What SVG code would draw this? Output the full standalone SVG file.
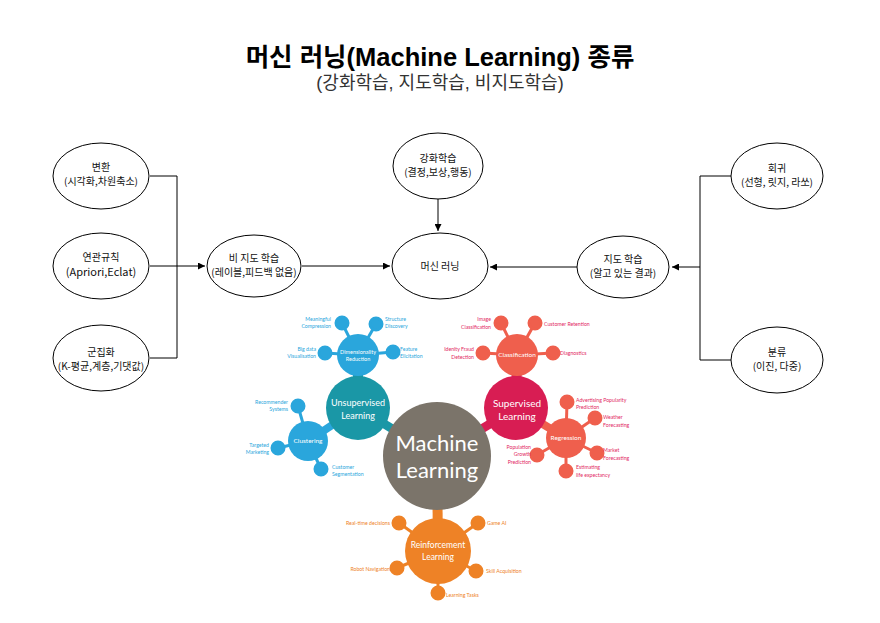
<svg xmlns="http://www.w3.org/2000/svg" width="880" height="623" viewBox="0 0 880 623">
<defs>
<marker id="arr" viewBox="0 0 10 10" refX="10" refY="5" markerWidth="7" markerHeight="7" markerUnits="userSpaceOnUse" orient="auto">
<path d="M0,0 L10,5 L0,10 z" fill="#000"/>
</marker>
<style>
.ell{fill:#fff;stroke:#000;stroke-width:1}
.kt{font-family:"Noto Sans CJK KR","Noto Sans",sans-serif;font-size:10px;fill:#111;text-anchor:middle}
.con{fill:none;stroke:#000;stroke-width:1}
.lab{font-family:Lato,"Open Sans",sans-serif;font-size:5.2px}
.blue{fill:#2aa6dc}
.red{fill:#e2275f}
.org{fill:#ee8226}
.wt{font-family:Lato,"Open Sans",sans-serif;fill:#fff;text-anchor:middle}
.r{text-anchor:end}
</style>
</defs>
<rect width="880" height="623" fill="#fff"/>
<g id="title">
<text x="440" y="66" text-anchor="middle" font-family="'Liberation Sans','Noto Sans CJK KR',sans-serif" font-weight="bold" font-size="25.5" fill="#000">머신 러닝(Machine Learning) 종류</text>
<text x="440" y="89" text-anchor="middle" font-family="'Liberation Sans','Noto Sans CJK KR',sans-serif" font-size="18" fill="#333">(강화학습, 지도학습, 비지도학습)</text>
</g>
<g id="connectors">
<path class="con" d="M150 176 H177 V358 H150"/>
<path class="con" d="M150 266 H205" marker-end="url(#arr)"/>
<path class="con" d="M302 266 H390" marker-end="url(#arr)"/>
<path class="con" d="M438 199 V231" marker-end="url(#arr)"/>
<path class="con" d="M577 267 H490" marker-end="url(#arr)"/>
<path class="con" d="M731 176 H700 V360 H731"/>
<path class="con" d="M700 267 H672" marker-end="url(#arr)"/>
</g>
<g id="n_transform"><ellipse class="ell" cx="101" cy="176" rx="48" ry="33"/><text class="kt" x="101" y="171">변환</text><text class="kt" x="101" y="185">(시각화,차원축소)</text></g>
<g id="n_assoc"><ellipse class="ell" cx="101" cy="266" rx="48" ry="33"/><text class="kt" x="101" y="261">연관규칙</text><text class="kt" x="101" y="276" style="font-size:11px">(Apriori,Eclat)</text></g>
<g id="n_cluster"><ellipse class="ell" cx="101" cy="358" rx="48" ry="33"/><text class="kt" x="101" y="356">군집화</text><text class="kt" x="101" y="370">(K-평균,계층,기댓값)</text></g>
<g id="n_unsup"><ellipse class="ell" cx="254" cy="266" rx="47" ry="31"/><text class="kt" x="254" y="262">비 지도 학습</text><text class="kt" x="254" y="276">(레이블,피드백 없음)</text></g>
<g id="n_rl"><ellipse class="ell" cx="438" cy="166" rx="45" ry="33"/><text class="kt" x="438" y="162">강화학습</text><text class="kt" x="438" y="176">(결정,보상,행동)</text></g>
<g id="n_ml"><ellipse class="ell" cx="440" cy="266" rx="48" ry="33"/><text class="kt" x="440" y="270">머신 러닝</text></g>
<g id="n_sup"><ellipse class="ell" cx="623" cy="267" rx="46" ry="31"/><text class="kt" x="623" y="263">지도 학습</text><text class="kt" x="623" y="277">(알고 있는 결과)</text></g>
<g id="n_reg"><ellipse class="ell" cx="777" cy="176" rx="46" ry="33"/><text class="kt" x="777" y="172">회귀</text><text class="kt" x="777" y="186">(선형, 릿지, 라쏘)</text></g>
<g id="n_cls"><ellipse class="ell" cx="777" cy="360" rx="46" ry="33"/><text class="kt" x="777" y="356">분류</text><text class="kt" x="777" y="370">(이진, 다중)</text></g>

<g id="infographic">
<line x1="358" y1="408" x2="437" y2="456" stroke="#1a97a6" stroke-width="9"/>
<line x1="516" y1="408" x2="437" y2="456" stroke="#d81d53" stroke-width="9"/>
<line x1="437" y1="456" x2="438" y2="551" stroke="#ee8226" stroke-width="10"/>
<line x1="358" y1="355" x2="358" y2="408" stroke="#1a97a6" stroke-width="10"/>
<line x1="308" y1="441" x2="358" y2="408" stroke="#2aa6dc" stroke-width="8"/>
<line x1="517" y1="355" x2="516" y2="408" stroke="#d81d53" stroke-width="10"/>
<line x1="566" y1="438" x2="516" y2="408" stroke="#ef5f4d" stroke-width="8"/>
<g stroke="#2aa6dc" stroke-width="3" fill="#2aa6dc">
<line x1="358" y1="355" x2="342" y2="323"/><circle cx="342" cy="323" r="6"/>
<line x1="358" y1="355" x2="376" y2="324"/><circle cx="376" cy="324" r="6"/>
<line x1="358" y1="355" x2="325" y2="353"/><circle cx="325" cy="353" r="6"/>
<line x1="358" y1="355" x2="393" y2="352"/><circle cx="393" cy="352" r="6"/>
<line x1="308" y1="441" x2="298" y2="406"/><circle cx="298" cy="406" r="6"/>
<line x1="308" y1="441" x2="278" y2="448"/><circle cx="278" cy="448" r="6"/>
<line x1="308" y1="441" x2="321" y2="469"/><circle cx="321" cy="469" r="6"/>
</g>
<g stroke="#ef5f4d" stroke-width="3" fill="#ef5f4d">
<line x1="517" y1="355" x2="501" y2="323"/><circle cx="501" cy="323" r="6"/>
<line x1="517" y1="355" x2="535" y2="323"/><circle cx="535" cy="323" r="6"/>
<line x1="517" y1="355" x2="483" y2="353"/><circle cx="483" cy="353" r="6"/>
<line x1="517" y1="355" x2="553" y2="353"/><circle cx="553" cy="353" r="6"/>
<line x1="566" y1="438" x2="567" y2="402"/><circle cx="567" cy="402" r="6"/>
<line x1="566" y1="438" x2="595" y2="418"/><circle cx="595" cy="418" r="6"/>
<line x1="566" y1="438" x2="597" y2="453"/><circle cx="597" cy="453" r="6"/>
<line x1="566" y1="438" x2="566" y2="471"/><circle cx="566" cy="471" r="6"/>
<line x1="566" y1="438" x2="537" y2="455"/><circle cx="537" cy="455" r="6"/>
</g>
<g stroke="#ee8226" stroke-width="3" fill="#ee8226">
<line x1="438" y1="551" x2="399" y2="523"/><circle cx="399" cy="523" r="6"/>
<line x1="438" y1="551" x2="478" y2="523"/><circle cx="478" cy="523" r="6"/>
<line x1="438" y1="551" x2="397" y2="568"/><circle cx="397" cy="568" r="6"/>
<line x1="438" y1="551" x2="476" y2="571"/><circle cx="476" cy="571" r="6"/>
<line x1="438" y1="551" x2="438" y2="593"/><circle cx="438" cy="593" r="6"/>
</g>
<circle cx="437" cy="456" r="54" fill="#7b746a"/>
<circle cx="358" cy="408" r="32" fill="#1a97a6"/>
<circle cx="516" cy="408" r="32" fill="#d81d53"/>
<circle cx="438" cy="551" r="33" fill="#ee8226"/>
<circle cx="358" cy="355" r="21" fill="#2aa6dc"/>
<circle cx="308" cy="441" r="20" fill="#2aa6dc"/>
<circle cx="517" cy="355" r="21" fill="#ef5f4d"/>
<circle cx="566" cy="438" r="20" fill="#ef5f4d"/>
<text class="wt" x="437" y="451" font-size="22">Machine</text>
<text class="wt" x="437" y="478" font-size="22">Learning</text>
<text class="wt" x="358" y="406" font-size="9">Unsupervised</text>
<text class="wt" x="358" y="419" font-size="9">Learning</text>
<text class="wt" x="517" y="407" font-size="10">Supervised</text>
<text class="wt" x="517" y="420" font-size="10">Learning</text>
<text class="wt" x="438" y="548" font-size="8.5">Reinforcement</text>
<text class="wt" x="438" y="560" font-size="8.5">Learning</text>
<text class="wt" x="358" y="354" font-size="5.5">Dimensionality</text>
<text class="wt" x="358" y="361" font-size="5.5">Reduction</text>
<text class="wt" x="308" y="443" font-size="6.5">Clustering</text>
<text class="wt" x="517" y="357" font-size="6.5">Classification</text>
<text class="wt" x="566" y="440" font-size="6.5">Regression</text>
<g class="lab blue">
<text class="r" x="331" y="321">Meaningful</text><text class="r" x="331" y="328">Compression</text>
<text x="385" y="321">Structure</text><text x="385" y="328">Discovery</text>
<text class="r" x="316" y="351">Big data</text><text class="r" x="316" y="358">Visualisation</text>
<text x="400" y="351">Feature</text><text x="400" y="358">Elicitation</text>
<text class="r" x="288" y="404">Recommender</text><text class="r" x="288" y="411">Systems</text>
<text class="r" x="269" y="447">Targeted</text><text class="r" x="269" y="454">Marketing</text>
<text x="332" y="469">Customer</text><text x="332" y="476">Segmentation</text>
</g>
<g class="lab red">
<text class="r" x="491" y="321">Image</text><text class="r" x="491" y="329">Classification</text>
<text x="544" y="326">Customer Retention</text>
<text class="r" x="474" y="351">Idenity Fraud</text><text class="r" x="474" y="359">Detection</text>
<text x="560" y="355">Diagnostics</text>
<text x="576" y="402">Advertising Popularity</text><text x="576" y="409">Prediction</text>
<text x="603" y="419">Weather</text><text x="603" y="427">Forecasting</text>
<text x="603" y="452">Market</text><text x="603" y="460">Forecasting</text>
<text x="576" y="469">Estimating</text><text x="576" y="477">life expectancy</text>
<text class="r" x="531" y="449">Population</text><text class="r" x="531" y="456">Growth</text><text class="r" x="531" y="464">Prediction</text>
</g>
<g class="lab org">
<text class="r" x="390" y="525">Real-time decisions</text>
<text x="487" y="525">Game AI</text>
<text class="r" x="390" y="571">Robot Navigation</text>
<text x="486" y="573">Skill Acquisition</text>
<text x="446" y="597">Learning Tasks</text>
</g>
</g>
</svg>
